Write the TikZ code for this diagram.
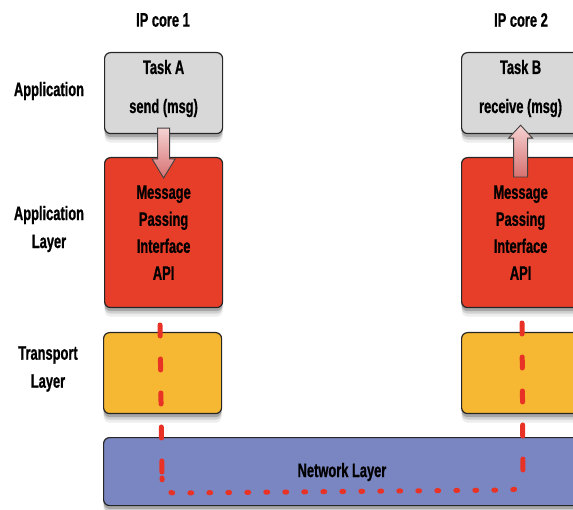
\documentclass[tikz,border=0pt]{standalone}
\usepackage{fontspec}
\setmainfont{Liberation Sans}[FakeStretch=0.66, FakeBold=0.8]
\usetikzlibrary{shadows,calc}
\definecolor{boxgray}{RGB}{216,216,216}
\definecolor{boxred}{RGB}{231,62,42}
\definecolor{boxyellow}{RGB}{246,184,50}
\definecolor{boxblue}{RGB}{122,134,194}
\definecolor{pathred}{RGB}{232,50,38}
\definecolor{arrowtop}{RGB}{246,210,210}
\definecolor{arrowbot}{RGB}{214,112,112}
\begin{document}
\begin{tikzpicture}[x=1pt,y=-1pt,
  blurshadow/.style={
    general shadow={fill=black,opacity=0.07,shadow yshift=-9pt,shadow xshift=0pt},
    general shadow={fill=black,opacity=0.12,shadow yshift=-6pt},
    general shadow={fill=black,opacity=0.2,shadow yshift=-3.5pt}},
  layerbox/.style={draw=black!85, line width=1.2pt, rounded corners=6pt,
    anchor=north west, inner sep=0pt, align=center,
    minimum width=118pt, font=\fontsize{19.5}{27}\selectfont\bfseries, blurshadow},
  lbl/.style={align=center, inner sep=0pt, font=\fontsize{19.5}{28}\selectfont\bfseries},
  redpath/.style={draw=pathred, line width=5pt, line cap=round},
  bigarrow/.style={draw=black!75, line width=0.9pt, top color=arrowtop, bottom color=arrowbot, line join=miter},
]
\useasboundingbox (0,0) rectangle (573,510);
\clip (0,0) rectangle (573,510);

% headers and row labels
\node[lbl] (ip1) at (163,20) {IP core 1};
\node[lbl] (ip2) at (521,20) {IP core 2};
\node[lbl] (lapp) at (49,91) {Application};
\node[lbl] (lapplayer) at (49,229) {Application\\Layer};
\node[lbl] (ltrans) at (48,369) {Transport\\Layer};

% network layer
\node[layerbox, fill=boxblue, minimum width=478pt, minimum height=68pt] (net) at (103,437) {};
\node[lbl] (nettext) at (342,472) {Network Layer};

% transport boxes
\node[layerbox, fill=boxyellow, minimum height=81pt] (transA) at (103,332) {};
\node[layerbox, fill=boxyellow, minimum height=81pt] (transB) at (461,332) {};

% MPI boxes
\node[layerbox, fill=boxred, minimum height=150pt] (mpiA) at (104,157) {Message\\Passing\\Interface\\API};
\node[layerbox, fill=boxred, minimum height=150pt] (mpiB) at (461,157) {Message\\Passing\\Interface\\API};

% task boxes
\node[layerbox, fill=boxgray, minimum height=81pt] (taskA) at (104,52) {};
\node[layerbox, fill=boxgray, minimum height=81pt] (taskB) at (461,52) {};
\node[lbl] (taskAt) at ($(taskA.north)+(0,15)$) {Task A};
\node[lbl] (taskAs) at ($(taskA.north)+(0,56)$) {send (msg)};
\node[lbl] (taskBt) at ($(taskB.north)+(0,15)$) {Task B};
\node[lbl] (taskBs) at ($(taskB.north)+(0,56)$) {receive (msg)};

% arrows
\draw[bigarrow] ($(taskA.south)+(-6,-6)$) -- ($(taskA.south)+(6,-6)$)
  -- ($(mpiA.north)+(6,2)$) -- ($(mpiA.north)+(11.5,2)$) -- ($(mpiA.north)+(0,21)$)
  -- ($(mpiA.north)+(-11.5,2)$) -- ($(mpiA.north)+(-6,2)$) -- cycle;
\draw[bigarrow] ($(mpiB.north)+(-7,20)$) -- ($(mpiB.north)+(7,20)$)
  -- ($(taskB.south)+(7,4)$) -- ($(taskB.south)+(12,4)$) -- ($(taskB.south)+(0,-9)$)
  -- ($(taskB.south)+(-12,4)$) -- ($(taskB.south)+(-7,4)$) -- cycle;

% red message path
\coordinate (p1) at (160,325);
\coordinate (p2) at (162,478);
\coordinate (p3) at (176,493);
\coordinate (p4) at (508,490);
\coordinate (p5) at (523,476);
\coordinate (p6) at (522,323);
\draw[redpath, dash pattern=on 11pt off 23pt] (p1) -- (p2);
\draw[redpath, dash pattern=on 11pt off 23pt] (p6) -- (p5);
\draw[redpath, dash pattern=on 1.8pt off 17.2pt] (p2) .. controls (162,490) and (166,493) .. (p3)
  -- (p4) .. controls (518,490) and (523,486) .. (p5);
\end{tikzpicture}
\end{document}
